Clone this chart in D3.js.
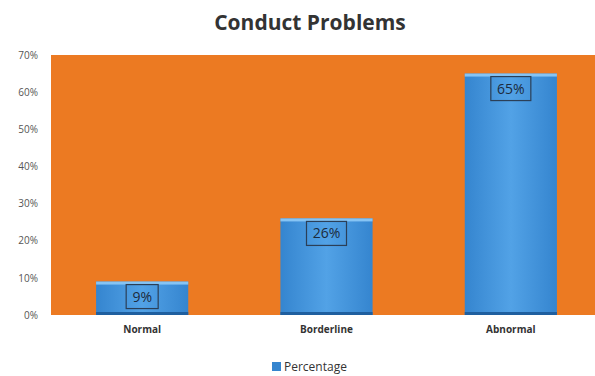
<!DOCTYPE html>
<html>
<head>
<meta charset="utf-8">
<script src="https://cdn.jsdelivr.net/npm/d3@7"></script>
<style>
  body { margin: 0; background: #fff; }
  text { font-family: "Open Sans", "Noto Sans", sans-serif; }
</style>
</head>
<body>
<div id="chart"></div>
<script>
const categories = ["Normal", "Borderline", "Abnormal"];
const percentage = [9, 26, 65];
const yTicks = [0, 10, 20, 30, 40, 50, 60, 70];

const width = 595, height = 376;
const margin = { top: 55, right: 0, bottom: 61, left: 51 };

const svg = d3.select("#chart").append("svg")
    .attr("width", width)
    .attr("height", height)
    .attr("viewBox", [0, 0, width, height]);

const defs = svg.append("defs");
const grad = defs.append("linearGradient")
    .attr("id", "barGrad").attr("x1", 0).attr("x2", 1).attr("y1", 0).attr("y2", 0);
grad.append("stop").attr("offset", "0%").attr("stop-color", "#3585cf");
grad.append("stop").attr("offset", "50%").attr("stop-color", "#52a2e6");
grad.append("stop").attr("offset", "100%").attr("stop-color", "#3585cf");

const x = d3.scaleBand()
    .domain(categories)
    .range([50, 603])
    .paddingInner(0.5)
    .paddingOuter(0.25);

const y = d3.scaleLinear()
    .domain([0, 70])
    .range([height - margin.bottom, margin.top]);

// plot area
svg.append("rect")
    .attr("x", margin.left)
    .attr("y", y(70))
    .attr("width", width - margin.left)
    .attr("height", y(0) - y(70))
    .attr("fill", "#ec7a22");

// title
svg.append("text")
    .attr("x", 310)
    .attr("y", 30)
    .attr("text-anchor", "middle")
    .attr("font-size", 21)
    .attr("font-weight", "bold")
    .attr("fill", "#333")
    .text("Conduct Problems");

// y axis
const yAxis = svg.append("g")
    .attr("transform", `translate(${margin.left - 10},0)`)
    .call(d3.axisLeft(y).tickValues(yTicks).tickFormat(d => d + "%").tickSize(0));
yAxis.select(".domain").remove();
yAxis.selectAll("text")
    .attr("font-size", 10)
    .attr("fill", "#555")
    .style("font-family", "'Open Sans', sans-serif");

// x axis
const xAxis = svg.append("g")
    .attr("transform", `translate(0,${y(0)})`)
    .call(d3.axisBottom(x).tickSize(0).tickPadding(11));
xAxis.select(".domain").remove();
xAxis.selectAll("text")
    .attr("font-size", 10)
    .attr("font-weight", "bold")
    .attr("fill", "#333")
    .style("font-family", "'Open Sans', sans-serif");

// bars
const bars = svg.append("g").selectAll("g")
    .data(categories)
    .join("g");

bars.append("rect")
    .attr("x", d => x(d))
    .attr("y", (d, i) => y(percentage[i]))
    .attr("width", x.bandwidth())
    .attr("height", (d, i) => y(0) - y(percentage[i]))
    .attr("fill", "url(#barGrad)");

// top bevel
bars.append("rect")
    .attr("x", d => x(d))
    .attr("y", (d, i) => y(percentage[i]))
    .attr("width", x.bandwidth())
    .attr("height", 3)
    .attr("fill", "#86c4f4");

// bottom shade
bars.append("rect")
    .attr("x", d => x(d))
    .attr("y", y(0) - 3)
    .attr("width", x.bandwidth())
    .attr("height", 3)
    .attr("fill", "#1f5f9f");

// value labels with boxes
bars.append("rect")
    .attr("x", d => x(d) + x.bandwidth() / 2 - (d === "Normal" ? 16 : 20))
    .attr("y", (d, i) => y(percentage[i]) + 3)
    .attr("width", d => d === "Normal" ? 32 : 40)
    .attr("height", 24)
    .attr("fill", "none")
    .attr("stroke", "#2b3f57")
    .attr("stroke-width", 1.2);

bars.append("text")
    .attr("x", d => x(d) + x.bandwidth() / 2)
    .attr("y", (d, i) => y(percentage[i]) + 20)
    .attr("text-anchor", "middle")
    .attr("font-size", 14)
    .attr("fill", "#1c2b3d")
    .text((d, i) => percentage[i] + "%");

// legend
const legend = svg.append("g").attr("transform", "translate(272,362)");
legend.append("rect")
    .attr("width", 9).attr("height", 9)
    .attr("fill", "#3585cf");
legend.append("text")
    .attr("x", 12).attr("y", 9)
    .attr("font-size", 12)
    .attr("fill", "#333")
    .text("Percentage");
</script>
</body>
</html>
